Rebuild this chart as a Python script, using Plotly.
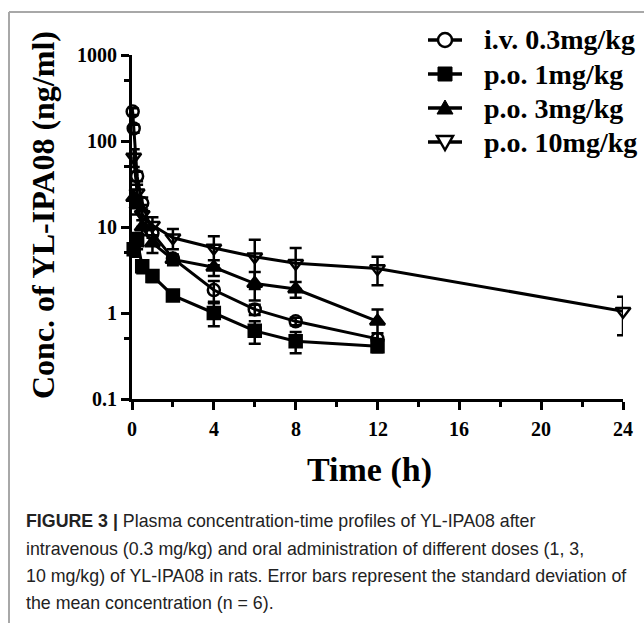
import plotly.graph_objects as go

# ---------------- data ----------------
iv_t = [0.033, 0.083, 0.25, 0.5, 1, 2, 4, 6, 8, 12]
iv_c = [220, 140, 39, 19, 8.5, 4.3, 1.85, 1.1, 0.8, 0.5]
iv_sd = [20, 15, 5, 3, 1.0, 0.3, 0.5, 0.15, 0.08, 0.08]

po1_t = [0.083, 0.25, 0.5, 1, 2, 4, 6, 8, 12]
po1_c = [5.5, 7.0, 3.5, 2.7, 1.6, 1.0, 0.62, 0.47, 0.41]
po1_sd = [1.0, 1.5, 0.6, 0.4, 0.2, 0.3, 0.18, 0.13, 0.06]

po3_t = [0.083, 0.25, 0.5, 1, 2, 4, 6, 8, 12]
po3_c = [22, 18, 10, 6.5, 4.2, 3.4, 2.2, 1.9, 0.8]
po3_sd = [5, 4, 2, 1.5, 0.6, 0.7, 0.8, 0.4, 0.3]

po10_t = [0.083, 0.25, 0.5, 1, 2, 4, 6, 8, 12, 24]
po10_c = [65, 25, 14, 10.5, 7.5, 5.7, 4.5, 3.8, 3.3, 1.05]
po10_sd = [15, 6, 4, 2.5, 2.0, 2.1, 2.6, 1.9, 1.2, 0.5]

names = ["i.v. 0.3mg/kg", "p.o. 1mg/kg", "p.o. 3mg/kg", "p.o. 10mg/kg"]
x_ticks = [0, 4, 8, 12, 16, 20, 24]
x_minor = [2, 6, 10, 14, 18, 22]
y_ticks = [0.1, 1, 10, 100, 1000]
y_ticktext = ["0.1", "1", "10", "100", "1000"]
y_minor = [0.5, 5, 50, 500]

caption_lines = [
    "<b>FIGURE 3 |</b> Plasma concentration-time profiles of YL-IPA08 after",
    "intravenous (0.3 mg/kg) and oral administration of different doses (1, 3,",
    "10 mg/kg) of YL-IPA08 in rats. Error bars represent the standard deviation of",
    "the mean concentration (n = 6).",
]

# ---------------- layout geometry ----------------
W, H = 644, 623
L, R, T, B = 132, 21, 55, 224
PW, PH = W - L - R, H - T - B

def px(x):
    return (x - L) / PW

def py(y):
    return (H - B - y) / PH

SERIF = "Liberation Serif, Times New Roman, serif"
SANS = "Liberation Sans Narrow, Arial Narrow, Liberation Sans, Arial, sans-serif"

fig = go.Figure()

series = [
    (iv_t, iv_c, iv_sd, names[0], "circle-open", 12),
    (po1_t, po1_c, po1_sd, names[1], "square", 12),
    (po3_t, po3_c, po3_sd, names[2], "triangle-up", 13),
    (po10_t, po10_c, po10_sd, names[3], "triangle-down-open", 13),
]
for t, c, sd, nm, sym, sz in series:
    fig.add_trace(go.Scatter(
        x=t, y=c, name=nm, mode="lines+markers",
        line=dict(color="black", width=3),
        marker=dict(symbol=sym, size=sz, color="black",
                    line=dict(color="black", width=2.5)),
        error_y=dict(type="data", array=sd, visible=True, color="black",
                     thickness=2.5, width=6),
        cliponaxis=False, showlegend=False,
    ))

fig.update_layout(
    width=W, height=H,
    margin=dict(l=L, r=R, t=T, b=B),
    paper_bgcolor="white", plot_bgcolor="white",
    showlegend=False,
    xaxis=dict(
        range=[0, 24], tickmode="array", tickvals=x_ticks,
        showticklabels=False,
        ticks="outside", ticklen=8, tickwidth=2.5, tickcolor="black",
        showline=True, linewidth=3, linecolor="black",
        showgrid=False, zeroline=False,
        minor=dict(tickmode="array", tickvals=x_minor, ticks="outside",
                   ticklen=5, tickwidth=2.5, tickcolor="black", showgrid=False),
    ),
    yaxis=dict(
        type="log", range=[-1, 3], tickmode="array", tickvals=y_ticks,
        ticktext=y_ticktext,
        ticks="outside", ticklen=8, tickwidth=2.5, tickcolor="black",
        showline=True, linewidth=3, linecolor="black",
        showgrid=False, zeroline=False,
        tickfont=dict(family=SERIF, size=20, color="black", weight="bold"),
        ticklabelstandoff=0,
        minor=dict(tickmode="array", tickvals=y_minor, ticks="outside",
                   ticklen=5, tickwidth=2.5, tickcolor="black", showgrid=False),
    ),
)

# x tick labels (placed at the data positions of the ticks)
for v in x_ticks:
    fig.add_annotation(x=v, xref="x", y=py(429), yref="paper", text=str(v),
                       showarrow=False, xanchor="center", yanchor="middle",
                       font=dict(family=SERIF, size=20, color="black", weight="bold"))

# axis titles
fig.add_annotation(x=px(369), y=py(470), xref="paper", yref="paper",
                   text="Time (h)", showarrow=False, xanchor="center", yanchor="middle",
                   font=dict(family=SERIF, size=34, color="black", weight="bold"))
fig.add_annotation(x=px(43), y=py(215), xref="paper", yref="paper",
                   text="Conc. of YL-IPA08 (ng/ml)", showarrow=False, textangle=-90,
                   xanchor="center", yanchor="middle",
                   font=dict(family=SERIF, size=32, color="black", weight="bold"))

# manual legend (line + symbol + label)
rows = [40, 74, 108, 142]
lx0, lx1, lc = 428, 462, 445
symbols = ["circle-open", "square", "triangle-up", "triangle-down-open"]
for nm, sym, ry in zip(names, symbols, rows):
    fig.add_shape(type="line", xref="paper", yref="paper",
                  x0=px(lx0), x1=px(lx1), y0=py(ry), y1=py(ry),
                  line=dict(color="black", width=3.5))
    if sym == "circle-open":
        fig.add_shape(type="circle", xref="paper", yref="paper",
                      x0=px(lc - 7), x1=px(lc + 7), y0=py(ry + 7), y1=py(ry - 7),
                      fillcolor="white", line=dict(color="black", width=2.5))
    elif sym == "square":
        fig.add_shape(type="rect", xref="paper", yref="paper",
                      x0=px(lc - 7), x1=px(lc + 7), y0=py(ry + 7), y1=py(ry - 7),
                      fillcolor="black", line=dict(color="black", width=1))
    elif sym == "triangle-up":
        path = "M {} {} L {} {} L {} {} Z".format(
            px(lc), py(ry - 8), px(lc - 8), py(ry + 6), px(lc + 8), py(ry + 6))
        fig.add_shape(type="path", xref="paper", yref="paper", path=path,
                      fillcolor="black", line=dict(color="black", width=1))
    else:
        path = "M {} {} L {} {} L {} {} Z".format(
            px(lc), py(ry + 8), px(lc - 8), py(ry - 6), px(lc + 8), py(ry - 6))
        fig.add_shape(type="path", xref="paper", yref="paper", path=path,
                      fillcolor="white", line=dict(color="black", width=2.5))
    fig.add_annotation(x=px(482), y=py(ry), xref="paper", yref="paper",
                       text=nm, showarrow=False, xanchor="left", yanchor="middle",
                       font=dict(family=SERIF, size=28, color="black", weight="bold"))

# caption
cap_y = [521, 549, 576, 603]
for line, yy in zip(caption_lines, cap_y):
    fig.add_annotation(x=px(24), y=py(yy), xref="paper", yref="paper",
                       text=line, showarrow=False, xanchor="left", yanchor="middle",
                       font=dict(family=SANS, size=17.8, color="#222222"))

# page frame lines (gray)
fig.add_shape(type="line", xref="paper", yref="paper",
              x0=px(9), x1=px(644), y0=py(12), y1=py(12),
              line=dict(color="#a8a8a8", width=2))
fig.add_shape(type="line", xref="paper", yref="paper",
              x0=px(9), x1=px(9), y0=py(12), y1=py(623),
              line=dict(color="#a8a8a8", width=2))

fig.write_html("out.html")
